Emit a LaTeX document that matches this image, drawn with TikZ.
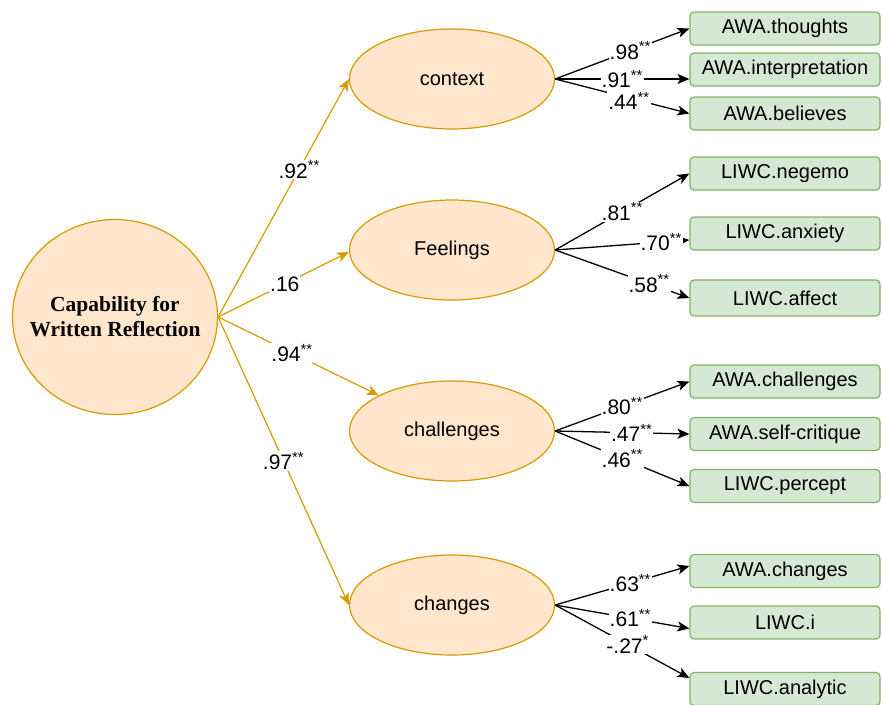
\documentclass[tikz,border=0pt]{standalone}
\usepackage{fontspec}
\setmainfont{Liberation Sans}
\newfontfamily\capfont{Liberation Serif}
\usetikzlibrary{shapes.geometric,arrows.meta}
\definecolor{ofill}{HTML}{FFE6CC}
\definecolor{odraw}{HTML}{D79B00}
\definecolor{gfill}{HTML}{D5E8D4}
\definecolor{gdraw}{HTML}{82B366}
\begin{document}
\begin{tikzpicture}[x=1pt,y=-1pt,
 lat/.style={ellipse, draw=odraw, fill=ofill, line width=1.2pt, minimum width=205pt, minimum height=100pt, inner sep=0pt, font=\fontsize{20}{23}\selectfont},
 obs/.style={rectangle, rounded corners=4pt, draw=gdraw, fill=gfill, line width=1.2pt, minimum width=190pt, minimum height=33pt, inner sep=0pt, font=\fontsize{20}{23}\selectfont},
 oarr/.style={draw=odraw, line width=1.2pt, -{Stealth[length=12pt,width=10pt,inset=3pt]}},
 barr/.style={draw=black, line width=1.3pt, -{Stealth[length=12pt,width=10pt,inset=3pt]}},
 lab/.style={fill=white, inner sep=1pt, font=\fontsize{21}{24}\selectfont},
]
\useasboundingbox (0,0) rectangle (883,704);
% latent root
\node[ellipse, draw=odraw, fill=ofill, line width=1.2pt, minimum width=205pt, minimum height=195pt, inner sep=0pt] (cap) at (115,317) {};
\node[align=center, inner sep=0pt, font=\capfont\bfseries\fontsize{21.5}{25}\selectfont] (captext) at (cap.center) {Capability for\\Written Reflection};
% latent factors
\node[lat] (context) at (452,79) {context};
\node[lat] (feel) at (452,250) {Feelings};
\node[lat] (chal) at (452,431) {challenges};
\node[lat] (chan) at (452,605) {changes};
% observed
\node[obs] (thoughts) at (785,28.5) {AWA.thoughts};
\node[obs] (interp) at (785,69.5) {AWA.interpretation};
\node[obs] (believes) at (785,113.5) {AWA.believes};
\node[obs] (negemo) at (785,173.5) {LIWC.negemo};
\node[obs] (anxiety) at (785,233.5) {LIWC.anxiety};
\node[obs, minimum height=36pt] (affect) at (785,298) {LIWC.affect};
\node[obs] (awachal) at (785,381.5) {AWA.challenges};
\node[obs] (selfcrit) at (785,434) {AWA.self-critique};
\node[obs] (percept) at (785,486) {LIWC.percept};
\node[obs] (awachan) at (785,571) {AWA.changes};
\node[obs] (liwci) at (785,622.5) {LIWC.i};
\node[obs] (analytic) at (785,689) {LIWC.analytic};
% orange paths
\draw[oarr] (cap.east) -- node[lab,pos=0.62]{.92\textsuperscript{**}} (context.west);
\draw[oarr] (cap.east) -- node[lab,pos=0.51]{.16} ([yshift=-2pt]feel.west);
\draw[oarr] (cap.east) -- node[lab,pos=0.46]{.94\textsuperscript{**}} (chal);
\draw[oarr] (cap.east) -- node[lab,pos=0.5]{.97\textsuperscript{**}} (chan.west);
% black paths
\draw[barr] (context.east) -- node[lab,pos=0.56]{.98\textsuperscript{**}} (thoughts.west);
\draw[barr] (context.east) -- node[lab,pos=0.5]{.91\textsuperscript{**}} (context.east -| interp.west);
\draw[barr] (context.east) -- node[lab,pos=0.55,yshift=-3pt]{.44\textsuperscript{**}} (believes.west);
\draw[barr] (feel.east) -- node[lab,pos=0.5]{.81\textsuperscript{**}} (negemo.west);
\draw[barr] (feel.east) -- node[lab,pos=0.79]{.70\textsuperscript{**}} ([yshift=-6.5pt]anxiety.west);
\draw[barr] (feel.east) -- node[lab,pos=0.7]{.58\textsuperscript{**}} (affect.west);
\draw[barr] (chal.east) -- node[lab,pos=0.5]{.80\textsuperscript{**}} (awachal.west);
\draw[barr] (chal.east) -- node[lab,pos=0.57]{.47\textsuperscript{**}} (selfcrit.west);
\draw[barr] (chal.east) -- node[lab,pos=0.5]{.46\textsuperscript{**}} (percept.west);
\draw[barr] (chan.east) -- node[lab,pos=0.56]{.63\textsuperscript{**}} ([yshift=5pt]awachan.west);
\draw[barr] (chan.east) -- node[lab,pos=0.56]{.61\textsuperscript{**}} ([yshift=-6pt]liwci.west);
\draw[barr] (chan.east) -- node[lab,pos=0.54]{-.27\textsuperscript{*}} ([yshift=11pt]analytic.west);
\end{tikzpicture}
\end{document}
